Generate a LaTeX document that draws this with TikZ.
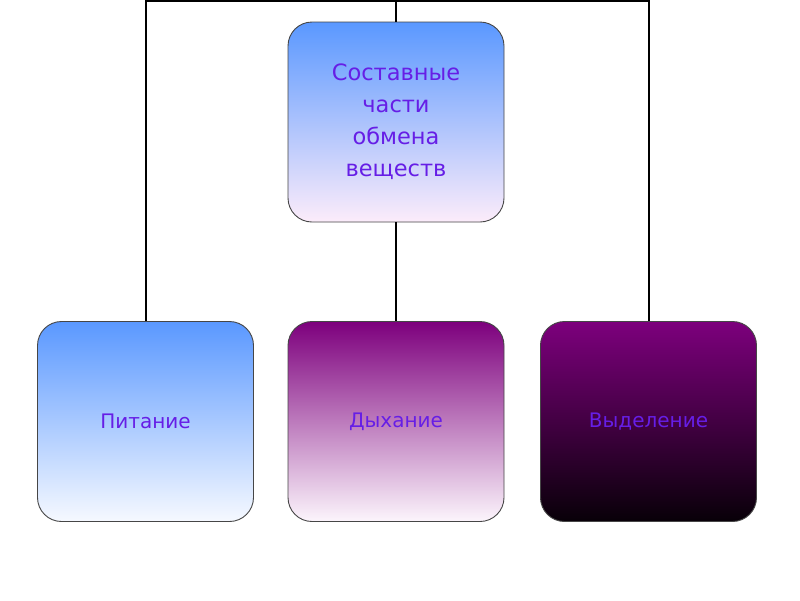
\documentclass[tikz,border=0pt]{standalone}
\usepackage{fontspec}
\setmainfont{DejaVu Sans}
\definecolor{txt}{RGB}{102,30,230}
\definecolor{blueA}{RGB}{90,152,255}
\definecolor{blueM}{RGB}{140,190,250}
\definecolor{pinkW}{RGB}{252,236,250}
\definecolor{whiteB}{RGB}{246,249,255}
\definecolor{purp}{RGB}{125,0,125}
\definecolor{purpW}{RGB}{252,245,252}
\definecolor{nearblack}{RGB}{8,0,8}
\definecolor{edge}{RGB}{70,70,70}
\begin{document}
\begin{tikzpicture}[x=1pt,y=1pt,
  box/.style={draw=edge, line width=0.9pt, rounded corners=24pt,
    minimum width=216pt, minimum height=200pt, inner sep=0pt,
    text=txt, font=\fontsize{20}{30}\selectfont, align=center},
  bigtext/.style={font=\fontsize{22.5}{32}\selectfont},
  conn/.style={draw=black, line width=2pt}]
\useasboundingbox (0,0) rectangle (800,-600);
\fill[white] (0,0) rectangle (800,-600);
\node[box, bigtext, shading=axis, top color=blueA, middle color=blueM, bottom color=pinkW]
  (top) at (396,-122) {Составные\\части\\обмена\\веществ};
\node[box, shading=axis, top color=blueA, bottom color=whiteB]
  (pit) at (145.5,-421.5) {Питание};
\node[box, shading=axis, top color=purp, bottom color=purpW]
  (dyh) at (396,-421.5) {Дыхание};
\node[box, shading=axis, top color=purp, bottom color=nearblack]
  (vyd) at (648.5,-421.5) {Выделение};
\coordinate (t) at (396,-1);
\draw[conn] (pit.north) |- (t) -| (vyd.north);
\draw[conn] (t) -- (top.north);
\draw[conn] (top.south) -- (dyh.north);
\end{tikzpicture}
\end{document}
